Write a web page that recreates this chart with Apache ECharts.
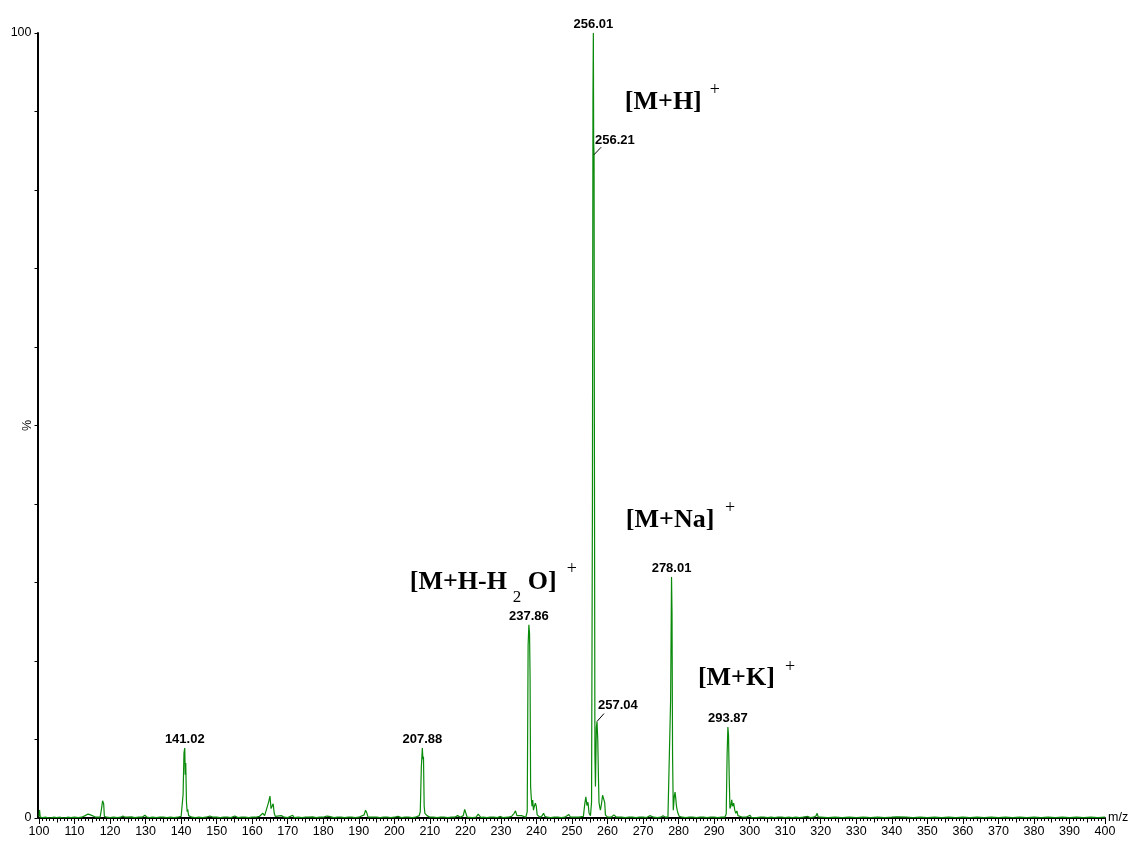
<!DOCTYPE html>
<html>
<head>
<meta charset="utf-8">
<script src="https://cdn.jsdelivr.net/npm/echarts@6/dist/echarts.min.js"></script>
<style>
html,body{margin:0;padding:0;background:#fff;}
#chart{width:1133px;height:842px;}
</style>
</head>
<body>
<div id="chart"></div>
<script>
// ---- DATA ----
// Mass spectrum profile: [m/z, relative intensity %]
const spectrum = [
[100.0,0.2],[100.15,1.0],[100.35,0.1],[101,0.05],[102,0.1],[103,0.0],[104,0.1],[105,0.05],[106,0.1],[107,0.0],
[108,0.1],[109,0.05],[110,0.1],[111,0.05],[112,0.1],[113,0.3],[113.8,0.5],[114.5,0.4],[115,0.2],[116,0.1],
[117.2,0.1],[117.6,1.2],[117.9,2.2],[118.2,1.8],[118.4,0.2],[119,0.1],[120,0.05],[121,0.1],[122,0.05],[123,0.1],
[123.6,0.25],[124.2,0.1],[125,0.1],[126,0.15],[127,0.05],[128,0.1],[129,0.1],[129.8,0.35],[130.4,0.1],[131,0.05],
[132,0.1],[133,0.05],[134,0.1],[135,0.1],[136,0.05],[137,0.1],[138,0.05],[139,0.1],[140,0.2],[140.3,0.3],
[140.55,3.0],[140.8,8.3],[141.02,8.9],[141.15,5.5],[141.3,7.0],[141.5,2.0],[141.7,0.8],[141.85,1.1],[142.1,0.3],[143,0.1],
[144,0.05],[145,0.1],[146,0.05],[147,0.1],[148.1,0.25],[148.6,0.05],[149,0.1],[150,0.1],[151,0.05],[152,0.1],
[153,0.1],[154,0.05],[155.1,0.25],[155.6,0.1],[156,0.05],[157,0.1],[158,0.1],[159,0.05],[160,0.1],[161,0.1],
[162,0.2],[163,0.6],[163.5,0.3],[164,0.4],[164.6,2.0],[165,2.8],[165.3,1.2],[165.6,1.0],[165.9,1.8],[166.2,0.6],
[166.5,0.2],[167,0.1],[168.2,0.3],[168.6,0.05],[169,0.1],[170,0.05],[171.4,0.35],[171.8,0.05],[172,0.1],[173,0.1],
[174,0.05],[175,0.1],[176,0.1],[177,0.15],[178,0.05],[179,0.1],[180,0.1],[181,0.25],[181.6,0.2],[182,0.1],
[183,0.05],[184,0.1],[185,0.1],[186,0.05],[187,0.1],[188,0.1],[189,0.05],[190,0.1],[191.5,0.4],[191.9,1.0],
[192.3,0.6],[192.6,0.1],[193,0.05],[194,0.1],[195,0.1],[196,0.05],[197,0.1],[198,0.1],[199,0.05],[200,0.1],
[201,0.2],[202,0.05],[203,0.1],[204,0.1],[205,0.05],[206,0.1],[207,0.3],[207.3,0.8],[207.6,6.5],[207.88,8.9],
[208.05,7.5],[208.2,7.8],[208.4,1.5],[208.6,0.6],[208.9,0.7],[209.2,0.3],[210,0.1],[211,0.1],[212,0.05],[213,0.1],
[214,0.1],[215,0.05],[216,0.1],[217,0.1],[217.8,0.3],[218.2,0.5],[218.6,0.1],[219.4,0.3],[219.8,1.1],[220.1,0.9],
[220.5,0.1],[221,0.1],[222,0.05],[223,0.1],[223.6,0.5],[224,0.4],[224.4,0.05],[225,0.1],[226,0.05],[227,0.1],
[228,0.1],[229,0.05],[229.9,0.2],[230.5,0.05],[231,0.1],[232,0.1],[233,0.2],[233.7,0.6],[234.1,0.9],[234.5,0.3],
[235.0,0.1],[235.8,0.3],[236.3,0.1],[237.0,0.1],[237.4,0.8],[237.65,22.0],[237.86,24.6],[238.05,23.5],[238.2,18.0],[238.35,4.0],
[238.55,2.5],[238.75,1.5],[238.95,2.3],[239.15,1.0],[239.4,1.5],[239.7,1.9],[239.95,1.5],[240.2,0.4],[240.6,0.3],[241,0.1],
[241.6,0.3],[242.0,0.6],[242.4,0.2],[243,0.1],[244,0.05],[245,0.1],[246,0.1],[247,0.05],[248,0.1],[249.1,0.45],
[249.6,0.1],[250,0.05],[251,0.1],[252,0.1],[253.2,0.2],[253.6,1.8],[253.9,2.7],[254.2,1.6],[254.5,2.0],[254.8,0.6],
[255.2,0.3],[255.5,2.0],[255.75,40],[255.9,92],[256.01,100],[256.1,86],[256.21,84.5],[256.3,50],[256.45,8],[256.6,4],
[256.85,11.5],[257.04,12.3],[257.25,10.0],[257.45,5.0],[257.6,2.0],[257.8,1.4],[258.0,1.0],[258.3,1.8],[258.6,2.9],[258.9,2.7],
[259.2,2.0],[259.4,0.4],[260,0.1],[261,0.1],[261.8,0.4],[262.1,0.6],[262.5,0.1],[263,0.05],[264,0.1],[265,0.05],
[266,0.1],[267,0.1],[268,0.05],[269,0.1],[270,0.1],[271,0.05],[271.9,0.3],[272.4,0.1],[273,0.1],[274,0.05],
[275,0.1],[275.6,0.3],[275.9,0.5],[276.3,0.1],[277,0.1],[277.5,0.3],[277.75,15],[278.01,30.7],[278.15,26],[278.3,8],
[278.5,1.0],[278.8,2.8],[279.0,3.3],[279.2,2.5],[279.4,1.5],[279.6,1.0],[279.9,0.5],[280.2,0.2],[281,0.1],[282,0.05],
[283,0.1],[284,0.1],[285,0.05],[286,0.1],[287,0.1],[288,0.05],[289,0.1],[290,0.1],[291,0.05],[292,0.1],
[293,0.1],[293.4,0.5],[293.65,8.0],[293.87,11.6],[294.05,10.5],[294.25,5.0],[294.45,1.2],[294.7,1.5],[294.95,2.3],[295.2,1.5],
[295.5,1.9],[295.8,1.0],[296.1,0.6],[296.4,0.9],[296.7,0.3],[297.2,0.2],[298,0.1],[299,0.1],[300.1,0.35],[300.5,0.05],
[301,0.1],[302,0.05],[303,0.1],[304,0.1],[305,0.05],[306,0.1],[307,0.05],[308,0.1],[309,0.1],[310,0.05],
[311,0.1],[312,0.05],[313,0.1],[314,0.05],[315,0.1],[316.4,0.2],[317,0.05],[318,0.1],[318.7,0.3],[319.0,0.6],
[319.3,0.1],[320,0.1],[322,0.05],[324,0.1],[326,0.05],[328,0.1],[330,0.05],[332,0.1],[334,0.05],[336,0.1],
[338,0.05],[340,0.1],[341.5,0.15],[342,0.05],[344,0.1],[346,0.05],[348,0.1],[350,0.05],[352,0.1],[354,0.05],
[356,0.1],[358,0.05],[360,0.1],[362,0.05],[364,0.1],[366,0.05],[368,0.1],[370,0.05],[372,0.1],[374,0.05],
[376,0.1],[378,0.05],[380,0.1],[382,0.05],[384,0.1],[386,0.05],[388,0.1],[390,0.05],[392,0.1],[394,0.05],
[396,0.1],[398,0.05],[400,0.1]
];

// Labelled peaks (label above peak top)
const peakMz = [141.02, 207.88, 237.86, 256.01, 278.01, 293.87];
const peakIntensity = [8.9, 8.9, 24.6, 100, 30.7, 11.6];

// Labelled peaks with leader lines (label up-right of point)
const leaderMz = [256.21, 257.04];
const leaderIntensity = [84.5, 12.3];

// Ion annotations
const ionTexts = ['[M+H]', '[M+H-H', 'O]', '[M+Na]', '[M+K]'];
const supText = '+';
const subText = '2';

// Axis labels
const xAxisName = 'm/z';
const yAxisName = '%';
const yTickLabels = [0, 100];

// ---- LAYOUT (anchors in data space) ----
const ionAnchors = [[264.88, 91.2], [204.36, 30.06], [237.57, 30.06], [265.16, 37.96], [285.43, 17.83]];
const supAnchors = [[288.8, 92.74], [248.55, 31.72], [293.03, 39.49], [309.92, 19.24]];
const subAnchors = [[233.35, 28.03]];
const leaderEnds = [[258.2, 85.45], [259.0, 13.3]];

const chart = echarts.init(document.getElementById('chart'), null, {renderer: 'canvas'});

const sansFont = 'Liberation Sans, Arial, sans-serif';
const serifFont = 'Liberation Serif, Times New Roman, serif';

const markPoints = [];
peakMz.forEach((mz, i) => {
  markPoints.push({
    coord: [mz, peakIntensity[i]], name: mz.toFixed(2), symbolSize: 0,
    label: {show: true, position: 'top', distance: 2, formatter: '{b}',
      fontFamily: sansFont, fontWeight: 'bold', fontSize: 13, color: '#000'}
  });
});
leaderMz.forEach((mz, i) => {
  markPoints.push({
    coord: [mz, leaderIntensity[i]], name: mz.toFixed(2), symbolSize: 0,
    label: {show: true, position: 'right', distance: 0, offset: [1, i === 0 ? -14 : -16], formatter: '{b}',
      fontFamily: sansFont, fontWeight: 'bold', fontSize: 13, color: '#000'}
  });
});
ionTexts.forEach((t, i) => {
  markPoints.push({
    coord: ionAnchors[i], name: t, symbolSize: 0,
    label: {show: true, position: 'right', distance: 0, formatter: '{b}',
      fontFamily: serifFont, fontWeight: 'bold', fontSize: 26, color: '#000'}
  });
});
supAnchors.forEach((c) => {
  markPoints.push({
    coord: c, name: supText, symbolSize: 0,
    label: {show: true, position: 'right', distance: 0, formatter: '{b}',
      fontFamily: serifFont, fontWeight: 'normal', fontSize: 18, color: '#000'}
  });
});
subAnchors.forEach((c) => {
  markPoints.push({
    coord: c, name: subText, symbolSize: 0,
    label: {show: true, position: 'right', distance: 0, formatter: '{b}',
      fontFamily: serifFont, fontWeight: 'normal', fontSize: 17, color: '#000'}
  });
});

const leaderLines = leaderMz.map((mz, i) => [
  {coord: [mz, leaderIntensity[i]]},
  {coord: leaderEnds[i]}
]);

const option = {
  animation: false,
  backgroundColor: '#fff',
  grid: {left: 39, right: 28, top: 33, bottom: 24, containLabel: false, outerBoundsMode: 'none'},
  xAxis: [{
    type: 'value', min: 100, max: 400, interval: 10,
    name: xAxisName, nameLocation: 'end', nameGap: 3,
    nameTextStyle: {fontFamily: sansFont, fontSize: 12.5, color: '#000', padding: [7, 0, 0, 0]},
    axisLine: {show: true, onZero: false, lineStyle: {color: '#000', width: 2}},
    axisTick: {show: true, length: 6, lineStyle: {color: '#000', width: 1}},
    minorTick: {show: true, splitNumber: 10, length: 3, lineStyle: {color: '#000', width: 1}},
    axisLabel: {fontFamily: sansFont, fontSize: 12.5, color: '#000', margin: 7},
    splitLine: {show: false}, minorSplitLine: {show: false}
  }, {
    type: 'value', min: 100, max: 400, interval: 5, position: 'bottom',
    axisLine: {show: false}, axisLabel: {show: false}, splitLine: {show: false},
    axisTick: {show: true, length: 4.5, lineStyle: {color: '#000', width: 1}}
  }],
  yAxis: {
    type: 'value', min: 0, max: 100, interval: 10, offset: 1.5,
    name: yAxisName, nameLocation: 'middle', nameRotate: 90, nameGap: 3, nameMoveOverlap: false,
    nameTextStyle: {fontFamily: sansFont, fontSize: 12.5, color: '#000'},
    axisLine: {show: true, lineStyle: {color: '#000', width: 2}},
    axisTick: {show: true, length: 3, lineStyle: {color: '#000', width: 1}},
    axisLabel: {fontFamily: sansFont, fontSize: 12.5, color: '#000', margin: 6,
      formatter: (v) => (yTickLabels.indexOf(v) >= 0 ? String(v) : '')},
    splitLine: {show: false}
  },
  series: [{
    type: 'line', xAxisIndex: 0, data: spectrum, showSymbol: false, symbol: 'none',
    lineStyle: {color: '#0a8a0a', width: 1.2}, z: 3,
    markPoint: {symbol: 'circle', symbolSize: 0, data: markPoints, silent: true},
    markLine: {symbol: ['none', 'none'], silent: true, label: {show: false},
      lineStyle: {color: '#000', width: 1, type: 'solid'}, data: leaderLines}
  }]
};
chart.setOption(option);
</script>
</body>
</html>
